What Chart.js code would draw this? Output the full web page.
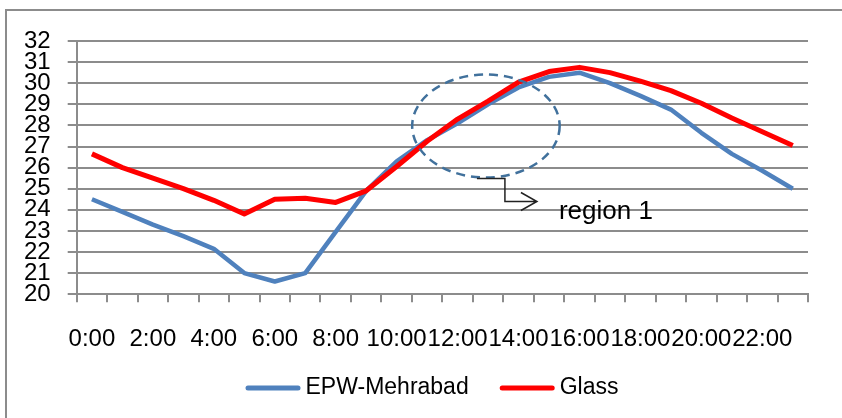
<!DOCTYPE html>
<html>
<head>
<meta charset="utf-8">
<script src="https://cdn.jsdelivr.net/npm/chart.js@4.4.1/dist/chart.umd.min.js"></script>
<style>
  html, body { margin: 0; padding: 0; background: #fff; overflow: hidden; }
  #wrap { position: relative; width: 842px; height: 418px; }
  #frame { position: absolute; left: 5px; top: 9px; width: 900px; height: 500px; border: 2px solid #8c8c8c; }
  #chart { position: absolute; left: 0; top: 0; }
</style>
</head>
<body>
<div id="wrap">
  <div id="frame"></div>
  <canvas id="chart" width="842" height="418"></canvas>
</div>
<script>
// hourly values
const hours = ['0:00', '1:00', '2:00', '3:00', '4:00', '5:00', '6:00', '7:00', '8:00', '9:00', '10:00', '11:00',
               '12:00', '13:00', '14:00', '15:00', '16:00', '17:00', '18:00', '19:00', '20:00', '21:00', '22:00', '23:00'];
const epwMehrabad = [24.5, 23.9, 23.3, 22.75, 22.15, 21.0, 20.6, 21.0, 22.95, 24.9, 26.3, 27.3,
                     28.1, 29.0, 29.8, 30.3, 30.5, 30.0, 29.4, 28.75, 27.65, 26.65, 25.85, 25.0];
const glass = [26.65, 26.0, 25.5, 25.0, 24.45, 23.8, 24.5, 24.55, 24.35, 24.9, 26.05, 27.25,
               28.3, 29.15, 30.05, 30.55, 30.75, 30.5, 30.1, 29.65, 29.05, 28.35, 27.7, 27.05];
const seriesNames = ['EPW-Mehrabad', 'Glass'];
const yMin = 20, yMax = 32, yStep = 1;

// dashed "region 1" callout, in axis units (category index / value)
const region = { x: 12.93, y: 27.97, dx: 2.42, dy: 2.44, label: 'region 1' };

const FONT = '"Liberation Sans", Arial, sans-serif';
const GRID = '#8c8c8c';

const regionNote = {
    id: 'regionNote',
    afterDatasetsDraw(chart) {
        const xs = chart.scales.x, ys = chart.scales.y, ctx = chart.ctx;
        const cx = xs.getPixelForValue(region.x);
        const cy = ys.getPixelForValue(region.y);
        const rx = xs.getPixelForValue(region.x + region.dx) - cx;
        const ry = ys.getPixelForValue(region.y - region.dy) - cy;
        ctx.save();
        ctx.strokeStyle = '#41719c';
        ctx.lineWidth = 2.5;
        ctx.setLineDash([9, 6]);
        ctx.beginPath();
        ctx.ellipse(cx, cy, rx, ry, 0, 0, Math.PI * 2);
        ctx.stroke();

        // elbow connector with open arrow
        const by = cy + ry;
        ctx.setLineDash([]);
        ctx.strokeStyle = '#222';
        ctx.lineWidth = 1.5;
        ctx.beginPath();
        ctx.moveTo(cx - 9, by + 1);
        ctx.lineTo(cx + 19, by + 1);
        ctx.lineTo(cx + 19, by + 24);
        ctx.lineTo(cx + 51, by + 24);
        ctx.moveTo(cx + 35, by + 15);
        ctx.lineTo(cx + 51, by + 24);
        ctx.lineTo(cx + 35, by + 33);
        ctx.stroke();

        ctx.fillStyle = '#000';
        ctx.font = '26px ' + FONT;
        ctx.textBaseline = 'alphabetic';
        ctx.fillText(region.label, cx + 73, by + 41);
        ctx.restore();
    }
};

const bottomLegend = {
    id: 'bottomLegend',
    afterDraw(chart) {
        const ctx = chart.ctx;
        ctx.save();
        ctx.font = '23px ' + FONT;
        const items = chart.data.datasets.map(ds => ({
            text: ds.label, color: ds.borderColor, w: ctx.measureText(ds.label).width
        }));
        const sample = 55, gap = 5, between = 31;
        const total = items.reduce((s, it) => s + sample + gap + it.w, 0) + between * (items.length - 1);
        let x = 432 - total / 2;
        const y = 388;
        items.forEach(it => {
            ctx.strokeStyle = it.color;
            ctx.lineWidth = 5;
            ctx.lineCap = 'round';
            ctx.beginPath();
            ctx.moveTo(x + 2.5, y);
            ctx.lineTo(x + sample - 2.5, y);
            ctx.stroke();
            ctx.fillStyle = '#000';
            ctx.textBaseline = 'middle';
            ctx.fillText(it.text, x + sample + gap, y);
            x += sample + gap + it.w + between;
        });
        ctx.restore();
    }
};

new Chart(document.getElementById('chart'), {
    type: 'line',
    data: {
        labels: hours,
        datasets: [
            {
                label: seriesNames[0],
                data: epwMehrabad,
                borderColor: '#4f81bd',
                borderWidth: 4.5,
                pointRadius: 0,
                tension: 0,
                borderJoinStyle: 'round',
                order: 1
            },
            {
                label: seriesNames[1],
                data: glass,
                borderColor: '#ff0000',
                borderWidth: 5,
                pointRadius: 0,
                tension: 0,
                borderJoinStyle: 'round',
                order: 0
            }
        ]
    },
    options: {
        responsive: false,
        animation: false,
        layout: { padding: { left: 7, right: 34, top: 41, bottom: 41 } },
        plugins: {
            legend: { display: false },
            tooltip: { enabled: false }
        },
        scales: {
            x: {
                offset: true,
                grid: { offset: true, drawOnChartArea: false, drawTicks: true, tickLength: 8, color: GRID, lineWidth: 2 },
                border: { color: GRID, width: 2 },
                ticks: {
                    autoSkip: false, maxRotation: 0, minRotation: 0, padding: 23,
                    color: '#000', font: { family: FONT, size: 24 },
                    callback: function(v, i) { return i % 2 === 0 ? hours[i] : ''; }
                }
            },
            y: {
                min: yMin, max: yMax,
                grid: { color: GRID, lineWidth: 2, tickLength: 9 },
                border: { color: GRID, width: 2 },
                ticks: {
                    stepSize: yStep, autoSkip: false, padding: 17,
                    color: '#000', font: { family: FONT, size: 24 }
                }
            }
        }
    },
    plugins: [regionNote, bottomLegend]
});
</script>
</body>
</html>
